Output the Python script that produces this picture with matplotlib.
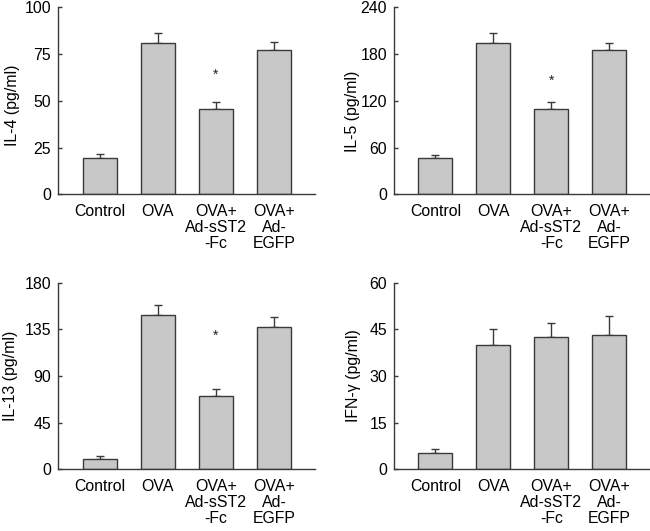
import matplotlib
matplotlib.use("Agg")
import matplotlib.pyplot as plt
import numpy as np

plt.rcParams['font.family'] = ['Liberation Sans', 'DejaVu Sans']

categories = ["Control", "OVA", "OVA+\nAd-sST2\n-Fc", "OVA+\nAd-\nEGFP"]

il4_mean = [19.3, 80.9, 45.8, 77.0]
il4_err = [2.1, 5.5, 3.4, 4.3]
il5_mean = [46.2, 194.2, 109.9, 184.8]
il5_err = [4.6, 13.2, 8.2, 9.8]
il13_mean = [9.6, 148.5, 71.0, 137.2]
il13_err = [3.5, 9.6, 6.4, 9.6]
ifng_mean = [5.2, 39.9, 42.7, 43.3]
ifng_err = [1.2, 5.1, 4.2, 5.9]

panels = [
    dict(mean=il4_mean, err=il4_err, ylabel="IL-4 (pg/ml)", ymax=100, ticks=[0, 25, 50, 75, 100], star=64, lx=20, ly=0.475),
    dict(mean=il5_mean, err=il5_err, ylabel="IL-5 (pg/ml)", ymax=240, ticks=[0, 60, 120, 180, 240], star=146, lx=360, ly=0.445),
    dict(mean=il13_mean, err=il13_err, ylabel="IL-13 (pg/ml)", ymax=180, ticks=[0, 45, 90, 135, 180], star=128.5, lx=18.5, ly=0.50),
    dict(mean=ifng_mean, err=ifng_err, ylabel="IFN-\u03b3 (pg/ml)", ymax=60, ticks=[0, 15, 30, 45, 60], star=None, lx=361, ly=0.505),
]

W, H = 650, 531
fig = plt.figure(figsize=(W / 100, H / 100), dpi=100)

rects = [
    (58, 7.3, 257, 187),
    (394, 7.3, 256, 187),
    (58, 282.7, 257, 186.6),
    (394, 282.7, 256, 186.6),
]

edge = "#3a3a3a"
fill = "#c8c8c8"
fs = 11.4

for p, (x0, y0, w, h) in zip(panels, rects):
    ax = fig.add_axes([x0 / W, 1 - (y0 + h) / H, w / W, h / H])
    x = np.arange(len(categories))
    ax.bar(x, p["mean"], width=0.584, color=fill, edgecolor=edge, linewidth=1.0, zorder=2)
    ax.errorbar(x, p["mean"], yerr=[np.zeros(len(x)), p["err"]], fmt="none",
                ecolor=edge, elinewidth=1.0, capsize=3, capthick=1.0, zorder=1)
    if p["star"] is not None:
        ax.text(2, p["star"], "*", ha="center", va="center", fontsize=10, color="#222222")
    ax.set_xlim(-0.713, 3.70)
    ax.set_ylim(0, p["ymax"])
    ax.set_yticks(p["ticks"])
    ax.set_yticklabels([str(t) for t in p["ticks"]], fontsize=fs)
    ax.set_xticks(x)
    ax.set_xticklabels(categories, fontsize=fs, linespacing=1.1)
    ax.tick_params(axis="x", length=0, pad=7)
    ax.tick_params(axis="y", direction="in", length=3, width=1, pad=5, color=edge)
    for s in ["top", "right"]:
        ax.spines[s].set_visible(False)
    for s in ["left", "bottom"]:
        ax.spines[s].set_color(edge)
        ax.spines[s].set_linewidth(1.0)
    ax.set_ylabel(p["ylabel"], fontsize=fs)
    ax.yaxis.set_label_coords((p["lx"] - x0) / w, p["ly"])

fig.savefig("out.png", dpi=100)
